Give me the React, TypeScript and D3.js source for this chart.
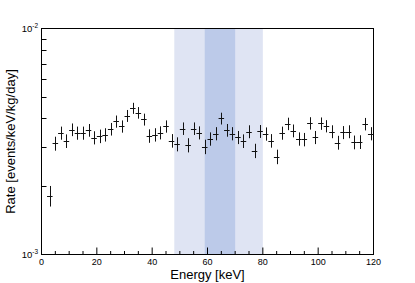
import React, { useEffect, useRef } from 'react';
import * as d3 from 'd3';

// bin centres [keV], 2 keV bins
const energies = [3, 5, 7, 9, 11, 13, 15, 17, 19, 21, 23, 25, 27, 29, 31, 33, 35, 37, 39, 41, 43, 45, 47, 49, 51, 53, 55, 57, 59,
  61, 63, 65, 67, 69, 71, 73, 75, 77, 79, 81, 83, 85, 87, 89, 91, 93, 95, 97, 99, 101, 103, 105, 107, 109, 111, 113, 115, 117, 119];
const binHalfWidth = 1;

// rate [events/keV/kg/day]
const rates = [0.00182, 0.00310, 0.00345, 0.00318, 0.00357, 0.00345, 0.00345, 0.00355, 0.00329, 0.00334, 0.00339, 0.00359,
  0.00388, 0.00369, 0.00411, 0.00444, 0.00424, 0.00396, 0.00335, 0.00339, 0.00346, 0.00369, 0.00319, 0.00308, 0.00361,
  0.00305, 0.00361, 0.00346, 0.00300, 0.00325, 0.00343, 0.00400, 0.00355, 0.00343, 0.00330, 0.00318, 0.00350, 0.00288,
  0.00351, 0.00342, 0.00319, 0.00271, 0.00345, 0.00379, 0.00353, 0.00325, 0.00323, 0.00381, 0.00330, 0.00380, 0.00370,
  0.00350, 0.00313, 0.00347, 0.00350, 0.00314, 0.00315, 0.00378, 0.00343];

const rateErrors = [0.00019, 0.00022, 0.00023, 0.00022, 0.00023, 0.00023, 0.00023, 0.00023, 0.00022, 0.00023, 0.00023, 0.00023,
  0.00024, 0.00023, 0.00025, 0.00025, 0.00025, 0.00024, 0.00023, 0.00023, 0.00023, 0.00023, 0.00022, 0.00022, 0.00023,
  0.00022, 0.00023, 0.00023, 0.00022, 0.00022, 0.00023, 0.00024, 0.00023, 0.00023, 0.00022, 0.00022, 0.00023, 0.00021,
  0.00023, 0.00023, 0.00022, 0.00020, 0.00023, 0.00024, 0.00023, 0.00022, 0.00022, 0.00024, 0.00022, 0.00024, 0.00023,
  0.00023, 0.00022, 0.00023, 0.00023, 0.00022, 0.00022, 0.00024, 0.00023];

// shaded energy windows [keV]
const outerBand = [48, 80];
const innerBand = [59, 70];

const xMajorTicks = [0, 20, 40, 60, 80, 100, 120];
const xMinorTicks = [5, 10, 15, 25, 30, 35, 45, 50, 55, 65, 70, 75, 85, 90, 95, 105, 110, 115];
const yMinorTicks = [0.002, 0.003, 0.004, 0.005, 0.006, 0.007, 0.008, 0.009];
const yDecades = [{ value: 0.001, exp: '-3' }, { value: 0.01, exp: '-2' }];

const App = () => {
  const svgRef = useRef<SVGSVGElement>(null);

  useEffect(() => {
    const W = 415, H = 283;
    const margin = { top: 28.5, right: 41.5, bottom: 28.5, left: 41.5 };
    const font = "'Liberation Sans', Arial, Helvetica, sans-serif";

    const svg = d3.select(svgRef.current);
    svg.selectAll('*').remove();
    svg.attr('width', W).attr('height', H);

    const x = d3.scaleLinear().domain([0, 120]).range([margin.left, W - margin.right]);
    const y = d3.scaleLog().domain([0.001, 0.01]).range([H - margin.bottom, margin.top]);

    // bands
    svg.append('rect')
      .attr('x', x(outerBand[0])).attr('y', y(0.01))
      .attr('width', x(outerBand[1]) - x(outerBand[0])).attr('height', y(0.001) - y(0.01))
      .attr('fill', '#dfe4f3');
    svg.append('rect')
      .attr('x', x(innerBand[0])).attr('y', y(0.01))
      .attr('width', x(innerBand[1]) - x(innerBand[0])).attr('height', y(0.001) - y(0.01))
      .attr('fill', '#bccae9');

    // frame
    svg.append('rect')
      .attr('x', x(0)).attr('y', y(0.01))
      .attr('width', x(120) - x(0)).attr('height', y(0.001) - y(0.01))
      .attr('fill', 'none').attr('stroke', '#000').attr('stroke-width', 1);

    const ticks = svg.append('g').attr('stroke', '#000').attr('stroke-width', 1);
    xMajorTicks.forEach(t => {
      ticks.append('line').attr('x1', x(t)).attr('x2', x(t)).attr('y1', y(0.001)).attr('y2', y(0.001) - 7);
    });
    xMinorTicks.forEach(t => {
      ticks.append('line').attr('x1', x(t)).attr('x2', x(t)).attr('y1', y(0.001)).attr('y2', y(0.001) - 3.5);
    });
    yMinorTicks.forEach(t => {
      const yy = Math.round(y(t)) + 0.5;
      ticks.append('line').attr('x1', x(0)).attr('x2', x(0) + 5).attr('y1', yy).attr('y2', yy);
    });

    // tick labels
    svg.append('g').selectAll('text').data(xMajorTicks).enter().append('text')
      .attr('x', d => x(d)).attr('y', 265)
      .attr('text-anchor', 'middle')
      .style('font-family', font).style('font-size', '9px').attr('fill', '#000')
      .text(d => d);

    const yl = svg.append('g').selectAll('text').data(yDecades).enter().append('text')
      .attr('x', 38).attr('y', d => y(d.value) + 3.5)
      .attr('text-anchor', 'end')
      .style('font-family', font).style('font-size', '9.5px').attr('fill', '#000');
    yl.append('tspan').text('10');
    yl.append('tspan').attr('dy', -4).style('font-size', '6.5px').text(d => d.exp);

    // titles
    svg.append('text')
      .attr('x', (x(0) + x(120)) / 2).attr('y', 278.5)
      .attr('text-anchor', 'middle')
      .style('font-family', font).style('font-size', '13px').attr('fill', '#000')
      .text('Energy [keV]');
    svg.append('text')
      .attr('transform', `translate(15,${(y(0.001) + y(0.01)) / 2}) rotate(-90)`)
      .attr('text-anchor', 'middle')
      .style('font-family', font).style('font-size', '13px').attr('fill', '#000')
      .text('Rate [events/keV/kg/day]');

    // data points with error bars
    const points = energies.map((e, i) => ({ e, v: rates[i], err: rateErrors[i] }));
    const pts = svg.append('g').attr('stroke', '#111').attr('stroke-width', 1).attr('fill', 'none');
    points.forEach(d => {
      const cx = Math.round(x(d.e)) + 0.5;
      const cy = Math.round(y(d.v)) + 0.5;
      pts.append('line').attr('x1', cx).attr('x2', cx).attr('y1', y(d.v - d.err)).attr('y2', y(d.v + d.err));
      pts.append('line').attr('x1', x(d.e - binHalfWidth)).attr('x2', x(d.e + binHalfWidth)).attr('y1', cy).attr('y2', cy);
    });
  }, []);

  return (
    <div style={{ position: 'absolute', left: 0, top: 0, background: '#fff' }}>
      <svg ref={svgRef} style={{ display: 'block' }}></svg>
    </div>
  );
};

export default App;
